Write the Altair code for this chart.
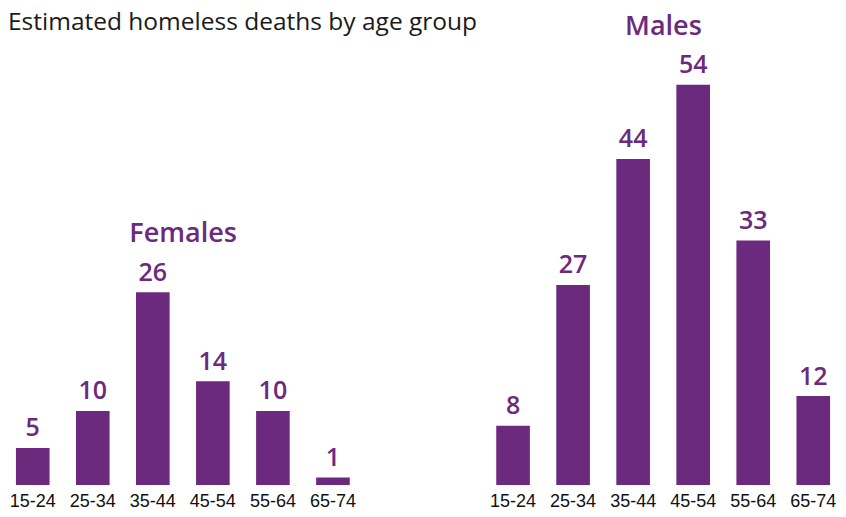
import altair as alt
import pandas as pd

age_groups = ["15-24", "25-34", "35-44", "45-54", "55-64", "65-74"]
females = [5, 10, 26, 14, 10, 1]
males = [8, 27, 44, 54, 33, 12]
sexes = ["Females", "Males"]
title_text = "Estimated homeless deaths by age group"

PURPLE = "#6C2A7E"

rows = []
for a, v in zip(age_groups, females):
    rows.append({"key": "F|" + a, "sex": "Females", "age": a, "deaths": v})
for a, v in zip(age_groups, males):
    rows.append({"key": "M|" + a, "sex": "Males", "age": a, "deaths": v})
df = pd.DataFrame(rows)

domain = ["F|" + a for a in age_groups] + ["gap1", "gap2"] + ["M|" + a for a in age_groups]

panel = pd.DataFrame({
    "sex": sexes,
    "key": ["F|35-44", "M|35-44"],
    "deaths": [max(females), max(males)],
})

x_enc = alt.X(
    "key:N",
    sort=domain,
    scale=alt.Scale(domain=domain, paddingInner=0.44, paddingOuter=0.132),
    axis=alt.Axis(
        title=None, domain=False, ticks=False, tickSize=0, grid=False,
        labelExpr="indexof(datum.value, '|') >= 0 ? split(datum.value, '|')[1] : ''",
        labelFont="Liberation Sans", labelFontSize=18, labelColor="#111111",
        labelBaseline="alphabetic", labelPadding=21, labelAngle=0,
    ),
)
y_enc = alt.Y("deaths:Q", scale=alt.Scale(domain=[0, 58.97], nice=False, zero=True), axis=None)

base = alt.Chart(df)
bars = base.mark_bar(color=PURPLE).encode(x=x_enc, y=y_enc)
labels = base.mark_text(
    font="Open Sans", fontSize=25, fontWeight=600, color=PURPLE,
    baseline="alphabetic", dy=-11.5,
).encode(x=x_enc, y=y_enc, text="deaths:Q")

ptitles = alt.Chart(panel).mark_text(
    font="Open Sans", fontSize=27, fontWeight=600, color=PURPLE,
    baseline="alphabetic", dx=30.3, dy=-50,
).encode(x=x_enc, y=y_enc, text="sex:N")

main_title = alt.Chart(pd.DataFrame({"t": [title_text]})).mark_text(
    font="Open Sans", fontSize=24.5, fontWeight="normal", color="#1a1a1a",
    align="left", baseline="alphabetic",
).encode(x=alt.value(0), y=alt.value(-18), text="t:N")

chart = alt.layer(bars, labels, ptitles, main_title).properties(
    width=830, height=437,
    autosize=alt.AutoSizeParams(type="none"),
    padding={"left": 0, "top": 40, "right": 0, "bottom": 24},
).configure_view(stroke=None)

chart.save("out.html", embed_options={"renderer": "svg", "actions": False})
